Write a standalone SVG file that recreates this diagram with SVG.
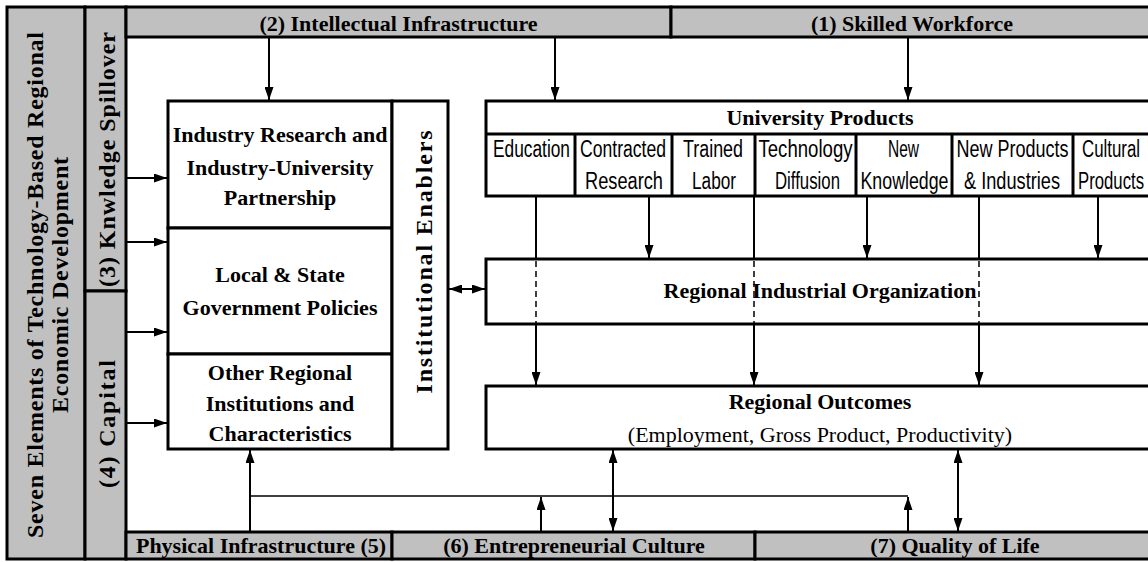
<svg xmlns="http://www.w3.org/2000/svg" width="1148" height="562" viewBox="0 0 1148 562">
  <style>
    .bar { fill: #c0c0c0; stroke: #000; stroke-width: 3; }
    .box { fill: #fff; stroke: #000; stroke-width: 3; }
    .div { stroke: #000; stroke-width: 3; fill: none; }
    .hb { font-family: "Liberation Serif", "Times New Roman", serif; font-weight: bold; font-size: 22px; text-anchor: middle; fill: #000; }
    .vt { font-family: "Liberation Serif", "Times New Roman", serif; font-weight: bold; font-size: 24px; text-anchor: middle; fill: #000; }
    .rg { font-family: "Liberation Serif", "Times New Roman", serif; font-size: 22px; text-anchor: middle; fill: #000; }
    .cell { font-family: "Liberation Sans", Arial, sans-serif; font-size: 23px; text-anchor: middle; fill: #000; }
    .conn { stroke: #000; stroke-width: 2; fill: none; }
    .thin { stroke: #000; stroke-width: 1.5; fill: none; }
    .dash { stroke: #000; stroke-width: 1.5; fill: none; stroke-dasharray: 6 4; }
  </style>
  <defs>
    <marker id="arrow" viewBox="0 0 13 9" refX="13" refY="4.5" markerWidth="13" markerHeight="9" markerUnits="userSpaceOnUse" orient="auto-start-reverse">
      <path d="M0,0 L13,4.5 L0,9 z" fill="#000"/>
    </marker>
  </defs>

  <rect x="0" y="0" width="1148" height="562" fill="#fff"/>

  <!-- surrounding frame of the seven elements -->
  <g id="seven-elements">
    <rect class="bar" x="7" y="7" width="78" height="552"/>
    <text class="vt" transform="translate(43,285) rotate(-90)" textLength="506" lengthAdjust="spacing">Seven Elements of Technology-Based Regional</text>
    <text class="vt" transform="translate(68,285) rotate(-90)" textLength="256" lengthAdjust="spacing">Economic Development</text>
  </g>
  <g id="knowledge-spillover">
    <rect class="bar" x="85" y="7" width="41" height="284"/>
    <text class="vt" transform="translate(115,159.5) rotate(-90)" textLength="255" lengthAdjust="spacing">(3) Knwledge Spillover</text>
  </g>
  <g id="capital">
    <rect class="bar" x="85" y="291" width="41" height="268"/>
    <text class="vt" transform="translate(115,424) rotate(-90)" textLength="128" lengthAdjust="spacing">(4) Capital</text>
  </g>
  <g id="intellectual-infrastructure">
    <rect class="bar" x="126" y="7" width="545" height="30"/>
    <text class="hb" x="398.5" y="30.5">(2) Intellectual Infrastructure</text>
  </g>
  <g id="skilled-workforce">
    <rect class="bar" x="671" y="7" width="485" height="30"/>
    <text class="hb" x="912" y="30.5">(1) Skilled Workforce</text>
  </g>
  <g id="physical-infrastructure">
    <rect class="bar" x="126" y="532" width="266" height="27"/>
    <text class="hb" x="261" y="553">Physical Infrastructure (5)</text>
  </g>
  <g id="entrepreneurial-culture">
    <rect class="bar" x="392" y="532" width="363" height="27"/>
    <text class="hb" x="574" y="553">(6) Entrepreneurial Culture</text>
  </g>
  <g id="quality-of-life">
    <rect class="bar" x="755" y="532" width="401" height="27"/>
    <text class="hb" x="955" y="553">(7) Quality of Life</text>
  </g>

  <!-- institutions column -->
  <g id="industry-research">
    <rect class="box" x="168" y="101" width="224" height="127"/>
    <text class="hb" x="280" y="142">Industry Research and</text>
    <text class="hb" x="280" y="175">Industry-University</text>
    <text class="hb" x="280" y="205">Partnership</text>
  </g>
  <g id="government-policies">
    <rect class="box" x="168" y="228" width="224" height="126"/>
    <text class="hb" x="280" y="282">Local &amp; State</text>
    <text class="hb" x="280" y="315">Government Policies</text>
  </g>
  <g id="other-institutions">
    <rect class="box" x="168" y="354" width="224" height="95"/>
    <text class="hb" x="280" y="380">Other Regional</text>
    <text class="hb" x="280" y="411">Institutions and</text>
    <text class="hb" x="280" y="441">Characteristics</text>
  </g>
  <g id="institutional-enablers">
    <rect class="box" x="392" y="101" width="56" height="348"/>
    <text class="vt" transform="translate(432,262) rotate(-90)" textLength="263" lengthAdjust="spacing">Institutional Enablers</text>
  </g>

  <!-- university products table -->
  <g id="university-products">
    <rect class="box" x="486" y="101" width="670" height="95"/>
    <line class="div" x1="486" y1="134" x2="1156" y2="134"/>
    <text class="hb" x="820" y="125">University Products</text>
    <g id="up-education">
      <text class="cell" x="531.5" y="157" textLength="77" lengthAdjust="spacingAndGlyphs">Education</text>
    </g>
    <g id="up-contracted-research">
      <line class="div" x1="575" y1="134" x2="575" y2="196"/>
      <text class="cell" x="623" y="157" textLength="86" lengthAdjust="spacingAndGlyphs">Contracted</text>
      <text class="cell" x="624" y="189" textLength="78" lengthAdjust="spacingAndGlyphs">Research</text>
    </g>
    <g id="up-trained-labor">
      <line class="div" x1="672" y1="134" x2="672" y2="196"/>
      <text class="cell" x="713" y="157" textLength="60" lengthAdjust="spacingAndGlyphs">Trained</text>
      <text class="cell" x="714" y="189" textLength="44" lengthAdjust="spacingAndGlyphs">Labor</text>
    </g>
    <g id="up-technology-diffusion">
      <line class="div" x1="755" y1="134" x2="755" y2="196"/>
      <text class="cell" x="805.5" y="157" textLength="94" lengthAdjust="spacingAndGlyphs">Technology</text>
      <text class="cell" x="807.5" y="189" textLength="65" lengthAdjust="spacingAndGlyphs">Diffusion</text>
    </g>
    <g id="up-new-knowledge">
      <line class="div" x1="856" y1="134" x2="856" y2="196"/>
      <text class="cell" x="903.5" y="157" textLength="31" lengthAdjust="spacingAndGlyphs">New</text>
      <text class="cell" x="904.5" y="189" textLength="88" lengthAdjust="spacingAndGlyphs">Knowledge</text>
    </g>
    <g id="up-new-products">
      <line class="div" x1="952" y1="134" x2="952" y2="196"/>
      <text class="cell" x="1012.5" y="157" textLength="112" lengthAdjust="spacingAndGlyphs">New Products</text>
      <text class="cell" x="1012" y="189" textLength="96" lengthAdjust="spacingAndGlyphs">&amp; Industries</text>
    </g>
    <g id="up-cultural-products">
      <line class="div" x1="1073" y1="134" x2="1073" y2="196"/>
      <text class="cell" x="1111" y="157" textLength="58" lengthAdjust="spacingAndGlyphs">Cultural</text>
      <text class="cell" x="1111" y="189" textLength="66" lengthAdjust="spacingAndGlyphs">Products</text>
    </g>
  </g>

  <g id="regional-industrial-organization">
    <rect class="box" x="486" y="259" width="670" height="65"/>
    <text class="hb" x="820" y="298">Regional Industrial Organization</text>
  </g>

  <g id="regional-outcomes">
    <rect class="box" x="486" y="386" width="670" height="63"/>
    <text class="hb" x="820" y="409">Regional Outcomes</text>
    <text class="rg" x="820" y="442">(Employment, Gross Product, Productivity)</text>
  </g>

  <!-- connectors -->
  <g id="connectors">
    <!-- from the top bars -->
    <line class="conn" x1="269" y1="38" x2="269" y2="100" marker-end="url(#arrow)"/>
    <line class="conn" x1="555" y1="38" x2="555" y2="100" marker-end="url(#arrow)"/>
    <line class="conn" x1="908" y1="38" x2="908" y2="100" marker-end="url(#arrow)"/>

    <!-- from spillover and capital into the institutions -->
    <line class="conn" x1="126" y1="178" x2="167" y2="178" marker-end="url(#arrow)"/>
    <line class="conn" x1="126" y1="242" x2="167" y2="242" marker-end="url(#arrow)"/>
    <line class="conn" x1="126" y1="332" x2="167" y2="332" marker-end="url(#arrow)"/>
    <line class="conn" x1="126" y1="423" x2="167" y2="423" marker-end="url(#arrow)"/>

    <!-- enablers to industrial organization -->
    <line class="conn" x1="449" y1="289" x2="485" y2="289" marker-start="url(#arrow)" marker-end="url(#arrow)"/>

    <!-- products into the industrial organization -->
    <line class="conn" x1="649" y1="197" x2="649" y2="258" marker-end="url(#arrow)"/>
    <line class="conn" x1="867" y1="197" x2="867" y2="258" marker-end="url(#arrow)"/>
    <line class="conn" x1="1098" y1="197" x2="1098" y2="258" marker-end="url(#arrow)"/>

    <!-- products passing through to outcomes -->
    <line class="conn" x1="536" y1="197" x2="536" y2="259"/>
    <line class="dash" x1="536" y1="261" x2="536" y2="323"/>
    <line class="conn" x1="536" y1="324" x2="536" y2="385" marker-end="url(#arrow)"/>
    <line class="conn" x1="754" y1="197" x2="754" y2="259"/>
    <line class="dash" x1="754" y1="261" x2="754" y2="323"/>
    <line class="conn" x1="754" y1="324" x2="754" y2="385" marker-end="url(#arrow)"/>
    <line class="conn" x1="979" y1="197" x2="979" y2="259"/>
    <line class="dash" x1="979" y1="261" x2="979" y2="323"/>
    <line class="conn" x1="979" y1="324" x2="979" y2="385" marker-end="url(#arrow)"/>

    <!-- bottom elements -->
    <line class="conn" x1="250" y1="531" x2="250" y2="450" marker-end="url(#arrow)"/>
    <line class="thin" x1="250" y1="496" x2="908" y2="496"/>
    <line class="conn" x1="541" y1="531" x2="541" y2="497" marker-end="url(#arrow)"/>
    <line class="conn" x1="908" y1="531" x2="908" y2="497" marker-end="url(#arrow)"/>
    <line class="conn" x1="613" y1="450" x2="613" y2="531" marker-start="url(#arrow)" marker-end="url(#arrow)"/>
    <line class="conn" x1="958" y1="450" x2="958" y2="531" marker-start="url(#arrow)" marker-end="url(#arrow)"/>
  </g>
</svg>
